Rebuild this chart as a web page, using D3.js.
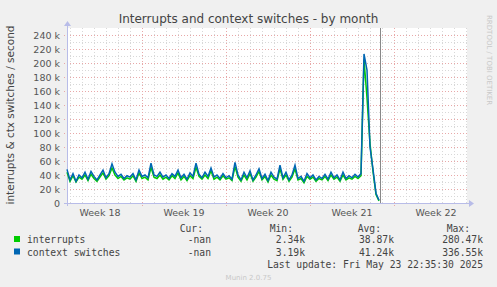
<!DOCTYPE html>
<html>
<head>
<meta charset="utf-8">
<script src="https://cdn.jsdelivr.net/npm/d3@7"></script>
<style>
body{margin:0;background:#f0f0f0;}
svg{display:block;}
text{font-family:"DejaVu Sans",sans-serif;}
.mono{font-family:"DejaVu Sans Mono",monospace;}
</style>
</head>
<body>
<script>
// values in k / second, one sample every 6 hours (day 0 .. now)
var contextSwitches = [
    48,33,42,31,40,36,44,34,45,38,
    33,40,47,36,42,56,44,38,41,35,
    39,37,42,33,47,38,40,36,57,40,
    38,44,37,40,35,42,38,47,36,41,
    34,43,38,57,41,36,44,38,50,37,
    40,35,42,36,39,34,58,40,33,44,
    36,46,33,40,49,35,41,32,44,37,
    34,54,36,44,33,40,54,35,38,31,
    42,36,40,33,38,35,41,34,44,36,
    40,33,44,35,39,36,41,37,42,213,
    190,80,48,14,4
];
var interrupts = [
    44,31,39,30,37,34,40,32,41,35,
    31,37,43,34,39,50,40,35,38,33,
    36,34,39,31,43,35,37,33,51,37,
    35,40,34,37,33,39,35,43,33,38,
    32,39,35,51,38,34,40,35,46,34,
    37,33,39,34,36,32,52,37,31,40,
    33,42,31,37,45,33,38,30,40,34,
    32,49,34,40,31,37,49,33,35,29,
    38,34,37,31,35,33,38,32,40,34,
    37,31,40,33,36,34,38,35,39,205,
    150,85,45,12,3
];
var step = 0.25;          // days per sample
var spanDays = 400 / 12;  // whole graph width in days
var nowDay = 26.08;
var weekStarts = [6.25, 13.25, 20.25, 27.25];
var weekLabels = ["Week 18", "Week 19", "Week 20", "Week 21", "Week 22"];
var yTicks = d3.range(0, 241, 20);

var legendRows = [
    {name: "interrupts", color: "#00cc00", cur: "-nan", min: "2.34k", avg: "38.87k", max: "280.47k"},
    {name: "context switches", color: "#0066b3", cur: "-nan", min: "3.19k", avg: "41.24k", max: "336.55k"}
];

var w = 497, h = 287;
var pLeft = 67, pRight = 467, pTop = 28, pBottom = 203;

var svg = d3.select("body").append("svg").attr("width", w).attr("height", h);

var x = d3.scaleLinear().domain([0, spanDays]).range([pLeft, pRight]);
var y = d3.scaleLinear().domain([0, 250]).range([pBottom, pTop]);

svg.append("rect").attr("x", pLeft).attr("y", pTop).attr("width", pRight - pLeft).attr("height", pBottom - pTop).attr("fill", "#fff");

// minor grid
var days = d3.range(0.25, spanDays, 1);
svg.selectAll(".vmin").data(days).enter().append("line")
    .attr("x1", function(d){ return Math.round(x(d)) + 0.5; })
    .attr("x2", function(d){ return Math.round(x(d)) + 0.5; })
    .attr("y1", pTop).attr("y2", pBottom)
    .attr("stroke", "#d8d8d8").attr("stroke-dasharray", "1,2");
svg.selectAll(".hmin").data(d3.range(10, 250, 20)).enter().append("line")
    .attr("x1", pLeft).attr("x2", pRight)
    .attr("y1", function(d){ return Math.round(y(d)) + 0.5; })
    .attr("y2", function(d){ return Math.round(y(d)) + 0.5; })
    .attr("stroke", "#d8d8d8").attr("stroke-dasharray", "1,2");
// major grid
svg.selectAll(".vmaj").data(weekStarts).enter().append("line")
    .attr("x1", function(d){ return Math.round(x(d)) + 0.5; })
    .attr("x2", function(d){ return Math.round(x(d)) + 0.5; })
    .attr("y1", pTop).attr("y2", pBottom + 3)
    .attr("stroke", "#e8a8a8").attr("stroke-dasharray", "1,2");
svg.selectAll(".hmaj").data(yTicks.slice(1)).enter().append("line")
    .attr("x1", pLeft - 3).attr("x2", pRight)
    .attr("y1", function(d){ return Math.round(y(d)) + 0.5; })
    .attr("y2", function(d){ return Math.round(y(d)) + 0.5; })
    .attr("stroke", "#e8a8a8").attr("stroke-dasharray", "1,2");

// axes
svg.append("line").attr("x1", pLeft - 3).attr("x2", pRight + 2).attr("y1", pBottom + 0.5).attr("y2", pBottom + 0.5).attr("stroke", "#b8bce8");
svg.append("line").attr("x1", pLeft + 0.5).attr("x2", pLeft + 0.5).attr("y1", pBottom + 3).attr("y2", pTop - 2).attr("stroke", "#b8bce8");
svg.append("path").attr("d", "M" + (pRight + 2) + "," + (pBottom - 3) + "L" + (pRight + 7) + "," + (pBottom + 0.5) + "L" + (pRight + 2) + "," + (pBottom + 4) + "Z").attr("fill", "#b8bce8");
svg.append("path").attr("d", "M" + (pLeft - 3) + "," + (pTop - 2) + "L" + (pLeft + 0.5) + "," + (pTop - 7) + "L" + (pLeft + 4) + "," + (pTop - 2) + "Z").attr("fill", "#b8bce8");

// y labels
svg.selectAll(".ylab").data(yTicks).enter().append("text")
    .attr("x", 60).attr("y", function(d){ return y(d) + 3.5; })
    .attr("text-anchor", "end").attr("font-size", "9.5px").attr("fill", "#555")
    .text(function(d){ return d === 0 ? "0" : d + " k"; });

// x labels
svg.selectAll(".xlab").data(weekLabels).enter().append("text")
    .attr("x", function(d, i){ return x(weekStarts[0] - 3.5 + 7 * i); })
    .attr("y", 216).attr("text-anchor", "middle").attr("font-size", "9.5px").attr("fill", "#555")
    .text(function(d){ return d; });

// series
var line = d3.line()
    .x(function(d, i){ return x(i * step); })
    .y(function(d){ return y(d); });
svg.append("path").datum(interrupts).attr("d", line)
    .attr("fill", "none").attr("stroke", "#00cc00").attr("stroke-width", 1.5);
svg.append("path").datum(contextSwitches).attr("d", line)
    .attr("fill", "none").attr("stroke", "#0066b3").attr("stroke-width", 1.5);

// now line
svg.append("line").attr("x1", Math.round(x(nowDay)) + 0.5).attr("x2", Math.round(x(nowDay)) + 0.5)
    .attr("y1", pTop).attr("y2", pBottom).attr("stroke", "#888");

// title
svg.append("text").attr("x", w / 2).attr("y", 23).attr("text-anchor", "middle")
    .attr("font-size", "12px").attr("fill", "#444").text("Interrupts and context switches - by month");

// y axis title
svg.append("text").attr("transform", "translate(14,115) rotate(-90)").attr("text-anchor", "middle")
    .attr("font-size", "10.5px").attr("fill", "#444").text("interrupts & ctx switches / second");

// side text
svg.append("text").attr("transform", "translate(487,15) rotate(90)")
    .attr("font-size", "7px").attr("fill", "#c8c8c8").text("RRDTOOL / TOBI OETIKER");

// legend
var cols = [{key: "cur", head: "Cur:", hx: 203, vx: 211}, {key: "min", head: "Min:", hx: 293, vx: 305},
            {key: "avg", head: "Avg:", hx: 381, vx: 394}, {key: "max", head: "Max:", hx: 470, vx: 483}];
svg.selectAll(".head").data(cols).enter().append("text").attr("class", "mono")
    .attr("x", function(d){ return d.hx; }).attr("y", 232).attr("text-anchor", "end")
    .attr("font-size", "9.7px").attr("fill", "#444").text(function(d){ return d.head; });
var rows = svg.selectAll(".row").data(legendRows).enter().append("g")
    .attr("transform", function(d, i){ return "translate(0," + (243 + i * 12.5) + ")"; });
rows.append("rect").attr("x", 14).attr("y", -7).attr("width", 6).attr("height", 6)
    .attr("fill", function(d){ return d.color; });
rows.append("text").attr("class", "mono").attr("x", 27).attr("y", 0).attr("font-size", "9.7px").attr("fill", "#444")
    .text(function(d){ return d.name; });
cols.forEach(function(c){
    rows.append("text").attr("class", "mono").attr("x", c.vx).attr("y", 0).attr("text-anchor", "end")
        .attr("font-size", "9.7px").attr("fill", "#444").text(function(d){ return d[c.key]; });
});
svg.append("text").attr("class", "mono").attr("x", 483).attr("y", 268).attr("text-anchor", "end")
    .attr("font-size", "9.7px").attr("fill", "#444").text("Last update: Fri May 23 22:35:30 2025");
svg.append("text").attr("x", w / 2).attr("y", 280).attr("text-anchor", "middle")
    .attr("font-size", "7px").attr("fill", "#c8c8c8").text("Munin 2.0.75");
</script>
</body>
</html>
